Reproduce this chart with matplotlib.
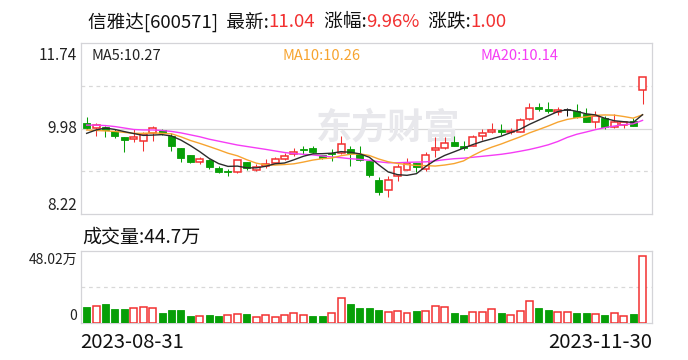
import matplotlib
matplotlib.use("Agg")
import matplotlib.pyplot as plt
import numpy as np
import pandas as pd
from matplotlib.patches import Rectangle

plt.rcParams['font.family'] = ['Noto Sans CJK SC', 'DejaVu Sans']

# ---------------- data ----------------
date_labels = ['2023-08-31', '2023-11-30']
opens = [10.09, 10.00, 10.02, 9.93, 9.81, 9.76, 9.72, 9.88, 9.94, 9.83,
         9.57, 9.43, 9.29, 9.33, 9.17, 9.11, 9.09, 9.29, 9.13, 9.20,
         9.28, 9.36, 9.45, 9.55, 9.58, 9.43, 9.48, 9.48, 9.56, 9.45,
         9.31, 8.92, 8.71, 9.00, 9.13, 9.26, 9.14, 9.54, 9.58, 9.70,
         9.63, 9.63, 9.83, 9.90, 9.95, 9.91, 9.91, 10.17, 10.42, 10.39,
         10.31, 10.36, 10.35, 10.27, 10.12, 10.20, 10.01, 10.05, 10.13, 10.77]
closes = [10.00, 10.05, 9.95, 9.83, 9.75, 9.80, 9.86, 9.98, 9.88, 9.61,
          9.38, 9.30, 9.35, 9.18, 9.08, 9.09, 9.33, 9.17, 9.18, 9.24,
          9.35, 9.41, 9.50, 9.54, 9.49, 9.37, 9.46, 9.66, 9.47, 9.33,
          9.02, 8.68, 8.93, 9.19, 9.26, 9.19, 9.43, 9.57, 9.68, 9.63,
          9.57, 9.80, 9.89, 9.94, 9.91, 9.93, 10.15, 10.40, 10.38, 10.35,
          10.36, 10.36, 10.22, 10.12, 10.24, 10.01, 10.11, 10.12, 10.04, 11.04]
highs = [10.21, 10.10, 10.03, 9.98, 9.81, 9.96, 9.90, 10.03, 9.97, 9.88,
         9.58, 9.44, 9.39, 9.35, 9.21, 9.14, 9.34, 9.30, 9.24, 9.35,
         9.40, 9.47, 9.58, 9.62, 9.62, 9.44, 9.55, 9.83, 9.61, 9.61,
         9.32, 8.98, 9.00, 9.25, 9.37, 9.27, 9.50, 9.80, 9.81, 9.83,
         9.73, 9.84, 9.96, 10.10, 10.07, 10.00, 10.20, 10.51, 10.50, 10.52,
         10.43, 10.41, 10.48, 10.40, 10.33, 10.24, 10.27, 10.13, 10.20, 11.04]
lows = [9.96, 9.83, 9.81, 9.79, 9.50, 9.71, 9.52, 9.73, 9.85, 9.52,
        9.30, 9.27, 9.24, 9.14, 9.07, 9.01, 9.06, 9.12, 9.11, 9.17,
        9.26, 9.33, 9.42, 9.46, 9.48, 9.36, 9.31, 9.45, 9.21, 9.32,
        8.98, 8.61, 8.56, 8.89, 9.12, 9.08, 9.11, 9.40, 9.56, 9.62,
        9.54, 9.61, 9.74, 9.88, 9.85, 9.86, 9.90, 10.16, 10.33, 10.29,
        10.26, 10.24, 10.19, 10.11, 9.99, 9.98, 10.00, 10.00, 10.04, 10.48]
volumes = [10.7, 11.3, 12.9, 9.3, 9.3, 9.8, 10.7, 10.0, 6.9, 8.7,
           8.7, 4.7, 4.5, 5.3, 4.7, 5.1, 6.0, 6.0, 3.8, 5.1,
           3.8, 5.1, 6.5, 5.1, 4.7, 4.7, 6.5, 16.5, 12.7, 10.0,
           10.0, 8.7, 7.3, 8.0, 6.7, 8.0, 8.0, 11.3, 10.7, 6.7,
           5.3, 7.3, 7.3, 9.3, 6.7, 5.1, 8.0, 14.7, 10.0, 8.7,
           7.3, 7.3, 6.7, 6.7, 6.0, 5.3, 6.7, 4.5, 6.0, 44.7]  # 万
# moving-average values before a full window exists
ma5_head = [9.88, 9.95, 9.99, 9.96]
ma10_head = [9.95, 9.94, 9.93, 9.92, 9.90, 9.88, 9.88, 9.89, 9.88]
ma20_head = [10.05, 10.05, 10.04, 10.02, 9.99, 9.96, 9.95, 9.95, 9.94, 9.92,
             9.89, 9.85, 9.81, 9.76, 9.72, 9.68, 9.64, 9.61, 9.58]
price_ticks = [8.22, 9.98, 11.74]
vol_ticks = ['0', '48.02万']
vol_max = 48.02
title_parts = [('信雅达[600571]  最新:', 'k'), ('11.04', 'r'), ('  涨幅:', 'k'),
               ('9.96%', 'r'), ('  涨跌:', 'k'), ('1.00', 'r')]
ma_labels = ['MA5:10.27', 'MA10:10.26', 'MA20:10.14']
vol_label = '成交量:44.7万'

# ---------------- style ----------------
RED = '#f23030'
GREEN = '#079f07'
C_MA5 = '#2b2b2b'
C_MA10 = '#f7a430'
C_MA20 = '#f53cf5'
FRAME = '#d4d4d8'
GRID = '#d8d8d8'

W, H = 688, 360
fig = plt.figure(figsize=(W / 100, H / 100), dpi=100)

def fx(x):
    return x / W

def fy(y):
    return 1 - y / H

L, R = 81, 651.5
ax = fig.add_axes([fx(L), fy(214), (R - L) / W, (214 - 43) / H])
axv = fig.add_axes([fx(L), fy(323), (R - L) / W, (323 - 251) / H])

n = len(closes)
x = np.arange(n)
o = np.array(opens); c = np.array(closes); h = np.array(highs); l = np.array(lows)
s = pd.Series(closes)
ma5 = s.rolling(5).mean().to_numpy(); ma5[:4] = ma5_head
ma10 = s.rolling(10).mean().to_numpy(); ma10[:9] = ma10_head
ma20 = s.rolling(20).mean().to_numpy(); ma20[:19] = ma20_head

for a in (ax, axv):
    a.set_xlim(-0.6, 59.95)
    a.set_xticks([]); a.set_yticks([])
    for sp in a.spines.values():
        sp.set_color(FRAME); sp.set_linewidth(0.9)

ax.set_ylim(price_ticks[0], price_ticks[-1])
axv.set_ylim(0, vol_max)

# grid
mid = price_ticks[1]
q = (price_ticks[2] - price_ticks[0]) / 4
ax.axhline(mid, color=GRID, lw=0.9, zorder=1)
for yv in (mid + q, mid - q):
    ax.axhline(yv, color=GRID, lw=0.9, ls=(0, (3, 3)), zorder=1)
axv.axhline(vol_max / 2, color=GRID, lw=0.9, ls=(0, (3, 3)), zorder=1)

# watermark
ax.text(0.538, 0.5, '东方财富', transform=ax.transAxes, ha='center', va='center',
        fontsize=26, fontweight='bold', color='#e8e8ec', zorder=1)

bw = 0.74
lw_px = 0.75
for i in range(n):
    if c[i] > o[i]:
        col = RED
    elif c[i] < o[i]:
        col = GREEN
    else:
        col = '#111111'
    ax.vlines(x[i], l[i], h[i], color=col, lw=lw_px, zorder=2)
    lo, hi = min(o[i], c[i]), max(o[i], c[i])
    if c[i] > o[i]:
        ax.add_patch(Rectangle((x[i] - bw / 2, lo), bw, hi - lo, facecolor='white',
                               edgecolor=col, lw=1.1, zorder=3))
    elif c[i] < o[i]:
        ax.add_patch(Rectangle((x[i] - bw / 2, lo), bw, max(hi - lo, 0.012), facecolor=col,
                               edgecolor=col, lw=0.6, zorder=3))
    else:
        ax.hlines(lo, x[i] - bw / 2, x[i] + bw / 2, color=col, lw=1.1, zorder=3)

ax.plot(x, ma20, color=C_MA20, lw=1.0, zorder=4)
ax.plot(x, ma10, color=C_MA10, lw=1.0, zorder=4)
ax.plot(x, ma5, color=C_MA5, lw=1.0, zorder=4)

# volume
for i in range(n):
    up = (c[i] >= c[i - 1]) if i > 0 else (c[i] >= o[i])
    if up:
        axv.add_patch(Rectangle((x[i] - bw / 2, 0), bw, volumes[i], facecolor='white',
                                edgecolor=RED, lw=1.1, zorder=3))
    else:
        axv.add_patch(Rectangle((x[i] - bw / 2, 0), bw, volumes[i], facecolor=GREEN,
                                edgecolor=GREEN, lw=0.6, zorder=3))

# axis labels
tk = dict(ha='right', va='center', fontsize=11, color='#222222')
fig.text(fx(77), fy(56), f'{price_ticks[2]:.2f}', **tk)
fig.text(fx(77), fy(128), f'{price_ticks[1]:.2f}', **tk)
fig.text(fx(77), fy(206), f'{price_ticks[0]:.2f}', **tk)
tkv = dict(tk, fontsize=10)
fig.text(fx(77), fy(260), vol_ticks[1], **tkv)
fig.text(fx(77), fy(316), vol_ticks[0], **tkv)

# MA labels
fig.text(fx(92), fy(56), ma_labels[0], color='#222222', fontsize=10.5, va='center')
fig.text(fx(283), fy(56), ma_labels[1], color=C_MA10, fontsize=10.5, va='center')
fig.text(fx(480), fy(56), ma_labels[2], color=C_MA20, fontsize=10.5, va='center')

fig.text(fx(82), fy(237), vol_label, color='#111111', fontsize=13.7, va='center')

fig.text(fx(80), fy(342), date_labels[0], color='#111111', fontsize=14.6, va='center', ha='left')
fig.text(fx(652), fy(342), date_labels[1], color='#111111', fontsize=14.6, va='center', ha='right')

# title with coloured numbers
fig.canvas.draw()
rend = fig.canvas.get_renderer()
cx = 88
for txt, cc in title_parts:
    t = fig.text(fx(cx), fy(22), txt, color=(RED if cc == 'r' else '#111111'),
                 fontsize=13.4, va='center', ha='left')
    bb = t.get_window_extent(renderer=rend)
    cx += bb.width

fig.savefig('out.png', dpi=100)
